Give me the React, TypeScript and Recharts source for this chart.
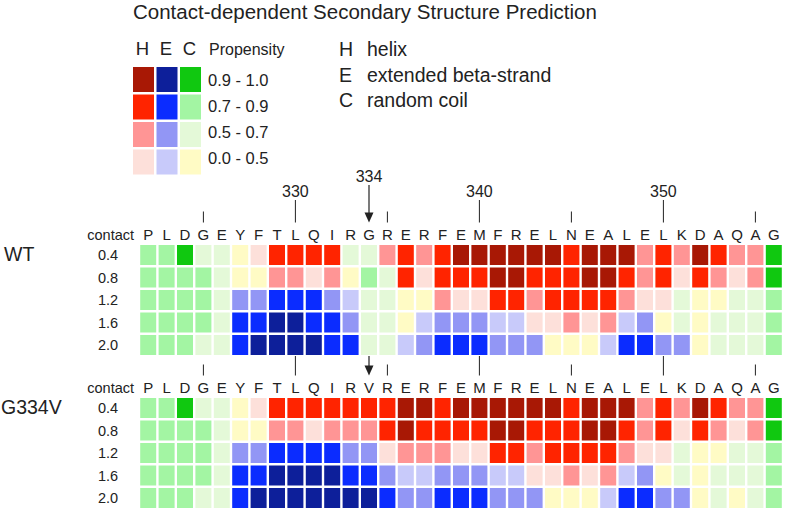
import { ScatterChart, Scatter, XAxis, YAxis, Customized } from 'recharts';

// sequence around the mutation site, first residue is P322
const wtSequence = 'PLDGEYFTLQIRGRERFEMFRELNEALELKDAQAG'.split('');
const mutSequence = 'PLDGEYFTLQIRVRERFEMFRELNEALELKDAQAG'.split('');
const firstResidue = 322;
const labelledResidues = [330, 340, 350];
const minorResidues = [325, 335, 345, 355];
const mutationSite = 334;
const contactLevels = ['0.4', '0.8', '1.2', '1.6', '2.0'];

// cell codes: state (H/E/C) + propensity bin (0 = 0.0-0.5 ... 3 = 0.9-1.0)
const wtCodes = [
  'C2 C2 C3 C1 C1 C0 H0 H2 H2 H2 H2 C1 C1 H1 H2 H1 H2 H3 H3 H3 H3 H3 H3 H2 H3 H3 H3 H1 H2 H1 H3 H2 H1 H1 C3',
  'C2 C2 C2 C2 C1 C0 C0 H1 H1 H0 H1 C0 C2 C1 H2 H0 H2 H2 H2 H3 H3 H2 H2 H2 H3 H3 H2 H1 H2 H0 H2 H1 H0 H1 C3',
  'C2 C2 C2 C2 C1 E1 E1 E2 E2 E2 E1 E0 C1 C1 C0 C0 H1 H0 H0 H2 H2 H1 H2 H2 H2 H2 H1 H0 H0 C1 C0 C0 C1 C1 C2',
  'C2 C2 C2 C2 C1 E2 E2 E3 E3 E2 E2 E1 C1 C1 C0 E0 E1 E1 E1 E0 E0 H0 H0 H1 H0 H1 E0 E1 C0 C1 C0 C1 C1 C1 C2',
  'C2 C2 C2 C1 C1 E2 E3 E3 E3 E3 E2 E2 C1 C1 E0 E1 E2 E2 E2 E1 E1 E1 C0 C0 C0 E0 E2 E2 E1 E1 C0 C1 C1 C1 C2',
];
const mutCodes = [
  'C2 C2 C3 C1 C1 C0 H0 H2 H2 H2 H2 H2 H2 H2 H3 H3 H2 H3 H3 H3 H3 H3 H3 H2 H3 H3 H3 H1 H2 H1 H3 H2 H1 H1 C3',
  'C2 C2 C2 C2 C1 C0 C0 H1 H1 H0 H1 H1 H1 H2 H3 H2 H2 H2 H2 H3 H3 H2 H2 H2 H3 H3 H2 H1 H2 H0 H2 H1 H0 H1 C3',
  'C2 C2 C2 C2 C1 E1 E1 E2 E2 E2 E2 E1 E1 H0 H1 H1 H1 H0 H0 H2 H2 H1 H2 H2 H2 H2 H1 H0 H0 C1 C0 C0 C1 C1 C2',
  'C2 C2 C2 C2 C1 E2 E2 E3 E3 E3 E3 E2 E2 E1 E0 E0 E1 E1 E1 E0 E0 H0 H0 H1 H0 H1 E0 E1 C0 C1 C0 C1 C1 C1 C2',
  'C2 C2 C2 C1 C1 E2 E3 E3 E3 E3 E3 E3 E3 E2 E1 E1 E2 E2 E2 E1 E1 E1 C0 C0 C0 E0 E2 E2 E1 E1 C0 C1 C0 C1 C2',
];

const states = ['H', 'E', 'C'];
const stateNames = ['helix', 'extended beta-strand', 'random coil'];
const propensityBins = ['0.0 - 0.5', '0.5 - 0.7', '0.7 - 0.9', '0.9 - 1.0'];

const palette: Record<string, string[]> = {
  H: ['#fde0da', '#ff9595', '#ff2400', '#a81805'],
  E: ['#c8cafa', '#9296f5', '#0b2cff', '#0d1f9a'],
  C: ['#fffbc5', '#e4f9d8', '#a3f5a3', '#10c810'],
};
const cellColor = (code: string) => palette[code[0]][Number(code[1])];

const FONT = "'Liberation Sans', Arial, sans-serif";
const INK = '#222';
const CELL_W = 16;
const CELL_H = 20;
const LETTER_Y = 80;
const TICK_BOTTOM = 62.5;

const toCells = (rows: string[]) =>
  rows.flatMap((r, ri) => r.split(' ').map((code, ci) => ({ col: ci + 1, row: ri + 1, code })));

const columns = wtSequence.map((_, i) => i + 1);
const rowTicks = contactLevels.map((_, i) => i + 1);

function Block({ top, label, sequence, codes, showNumbers, longTop, arrowTop }: any) {
  const cells = toCells(codes);

  const topTick = (props: any) => {
    const { x, payload } = props;
    const col = payload.value;
    const res = firstResidue + col - 1;
    let mark = null;
    if (res === mutationSite) {
      mark = (
        <g>
          <line x1={x} x2={x} y1={arrowTop} y2={TICK_BOTTOM - 6} stroke={INK} strokeWidth={1.2} />
          <polygon points={`${x - 4.5},${TICK_BOTTOM - 10} ${x + 4.5},${TICK_BOTTOM - 10} ${x},${TICK_BOTTOM}`} fill={INK} />
          {showNumbers && (
            <text x={x} y={22} textAnchor="middle" fontSize={16} fill={INK}>{res}</text>
          )}
        </g>
      );
    } else if (labelledResidues.includes(res)) {
      mark = (
        <g>
          <line x1={x} x2={x} y1={longTop} y2={TICK_BOTTOM} stroke={INK} strokeWidth={1} />
          {showNumbers && (
            <text x={x} y={37} textAnchor="middle" fontSize={16} fill={INK}>{res}</text>
          )}
        </g>
      );
    } else if (minorResidues.includes(res)) {
      mark = <line x1={x} x2={x} y1={51.5} y2={TICK_BOTTOM} stroke={INK} strokeWidth={1} />;
    }
    return (
      <g>
        {mark}
        <text x={x} y={LETTER_Y} textAnchor="middle" fontSize={15} fill={INK} fontFamily={FONT}>
          {sequence[col - 1]}
        </text>
      </g>
    );
  };

  const leftTick = (props: any) => {
    const { y, payload } = props;
    return (
      <text x={108} y={y + 5} textAnchor="middle" fontSize={14.5} fill={INK} fontFamily={FONT}>
        {contactLevels[payload.value - 1]}
      </text>
    );
  };

  return (
    <div style={{ position: 'absolute', left: 0, top }}>
      <ScatterChart width={790} height={197} margin={{ top: 0, right: 7, bottom: 0.75, left: 0 }}>
        <XAxis
          type="number"
          dataKey="col"
          orientation="top"
          domain={[0.5, 35.5]}
          ticks={columns}
          interval={0}
          height={83.75}
          axisLine={false}
          tickLine={false}
          tick={topTick}
        />
        <YAxis
          type="number"
          dataKey="row"
          domain={[0.5, 5.5]}
          reversed
          ticks={rowTicks}
          interval={0}
          width={139}
          axisLine={false}
          tickLine={false}
          tick={leftTick}
        />
        <Scatter
          data={cells}
          isAnimationActive={false}
          shape={(p: any) => (
            <rect
              x={p.cx - CELL_W / 2}
              y={p.cy - CELL_H / 2}
              width={CELL_W}
              height={CELL_H}
              fill={cellColor(p.payload.code)}
            />
          )}
        />
        <Customized
          component={() => (
            <g fontFamily={FONT} fill={INK}>
              <text x={label === 'WT' ? 4 : 1} y={101} fontSize={19.5}>{label}</text>
              <text x={134} y={LETTER_Y} textAnchor="end" fontSize={14.5}>contact</text>
            </g>
          )}
        />
      </ScatterChart>
    </div>
  );
}

function Header() {
  const swatchX = [133, 156.5, 180];
  const swatchY = [67, 94.5, 122, 149.5];
  const rangeY = [86, 112, 138, 164];
  return (
    <svg width={790} height={180} style={{ position: 'absolute', left: 0, top: 0 }} fontFamily={FONT}>
      <text x={133} y={19} fontSize={20.5} fill={INK}>Contact-dependent Secondary Structure Prediction</text>
      {states.map((s, si) => (
        <text key={s} x={swatchX[si] + 9.5} y={55} textAnchor="middle" fontSize={18.5} fill={INK}>{s}</text>
      ))}
      <text x={209} y={55} fontSize={16} fill={INK}>Propensity</text>
      {states.map((s, si) =>
        [3, 2, 1, 0].map((bin, ri) => (
          <rect key={s + bin} x={swatchX[si]} y={swatchY[ri]} width={21} height={25} fill={palette[s][bin]} />
        ))
      )}
      {[3, 2, 1, 0].map((bin, ri) => (
        <text key={bin} x={208} y={rangeY[ri]} fontSize={16.5} fill={INK}>{propensityBins[bin]}</text>
      ))}
      {states.map((s, si) => (
        <g key={s}>
          <text x={339} y={56 + si * 25.5} fontSize={19.5} fill={INK}>{s}</text>
          <text x={367} y={56 + si * 25.5} fontSize={19.5} fill={INK}>{stateNames[si]}</text>
        </g>
      ))}
    </svg>
  );
}

export default function App() {
  return (
    <div style={{ position: 'absolute', left: 0, top: 0, width: 790, height: 510, background: '#fff', fontFamily: FONT }}>
      <Header />
      <Block top={160} label="WT" sequence={wtSequence} codes={wtCodes} showNumbers longTop={40} arrowTop={25} />
      <Block top={313} label="G334V" sequence={mutSequence} codes={mutCodes} showNumbers={false} longTop={43} arrowTop={43} />
    </div>
  );
}
